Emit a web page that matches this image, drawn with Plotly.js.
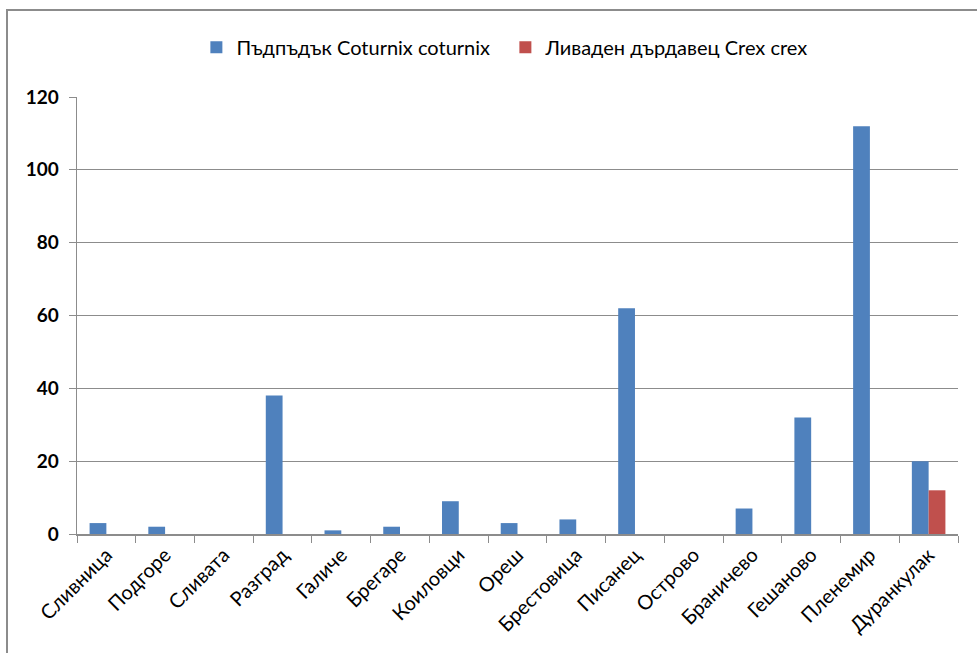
<!DOCTYPE html>
<html>
<head>
<meta charset="utf-8">
<script src="https://cdn.plot.ly/plotly-3.0.1.min.js"></script>
<style>
  body { margin: 0; background: #fff; }
  #chart { position: absolute; left: 0; top: 0; width: 977px; height: 653px; }
  #frame { position: absolute; left: 6px; top: 9px; width: 971px; height: 644px;
           border-left: 2px solid #8c8c8c; border-top: 2px solid #8c8c8c; box-sizing: border-box; pointer-events: none; }
</style>
</head>
<body>
<div id="chart"></div>
<div id="frame"></div>
<script>
const categories = ["Сливница", "Подгоре", "Сливата", "Разград", "Галиче", "Брегаре", "Коиловци", "Ореш", "Брестовица", "Писанец", "Острово", "Браничево", "Гешаново", "Пленемир", "Дуранкулак"];
const quailName = "Пъдпъдък Coturnix coturnix";
const quailValues = [3, 2, 0, 38, 1, 2, 9, 3, 4, 62, 0, 7, 32, 112, 20];
const crakeName = "Ливаден дърдавец Crex crex";
const crakeValues = [null, null, null, null, null, null, null, null, null, null, null, null, null, null, 12];
const yTicks = [0, 20, 40, 60, 80, 100, 120];

const font = "Lato, 'Open Sans', sans-serif";

const data = [
  { type: "bar", name: quailName, x: categories, y: quailValues,
    marker: { color: "#4F81BD", line: { width: 0 } } },
  { type: "bar", name: crakeName, x: categories, y: crakeValues,
    marker: { color: "#C0504D", line: { width: 0 } } }
];

const layout = {
  width: 977, height: 653,
  margin: { l: 77, r: 19, t: 97, b: 119, pad: 0 },
  paper_bgcolor: "#fff", plot_bgcolor: "#fff",
  font: { family: font, color: "#000", size: 18 },
  barmode: "group", bargap: 0.4286, bargroupgap: 0,
  showlegend: true,
  legend: { orientation: "h", x: 0.1355, xanchor: "left", y: 1.114, yanchor: "middle",
            entrywidth: 264, entrywidthmode: "pixels",
            font: { family: font, size: 20, color: "#000" }, itemwidth: 30, traceorder: "normal" },
  xaxis: {
    type: "category", tickson: "boundaries", ticks: "outside", ticklen: 7, tickcolor: "#8c8c8c",
    showline: true, linecolor: "#8c8c8c", linewidth: 1.5, showgrid: false,
    tickangle: -45, tickfont: { family: font, size: 20, color: "#000" }
  },
  yaxis: {
    range: [0, 120], tickvals: yTicks, ticktext: yTicks.map(String),
    ticks: "outside", ticklen: 7, tickcolor: "#8c8c8c",
    showline: true, linecolor: "#8c8c8c", linewidth: 1.5,
    showgrid: true, gridcolor: "#8c8c8c", gridwidth: 1.2, zeroline: false,
    tickfont: { family: font, size: 19, color: "#000", weight: "bold" }, ticklabelstandoff: 6
  }
};

Plotly.newPlot("chart", data, layout, { staticPlot: true, displayModeBar: false });
</script>
</body>
</html>
